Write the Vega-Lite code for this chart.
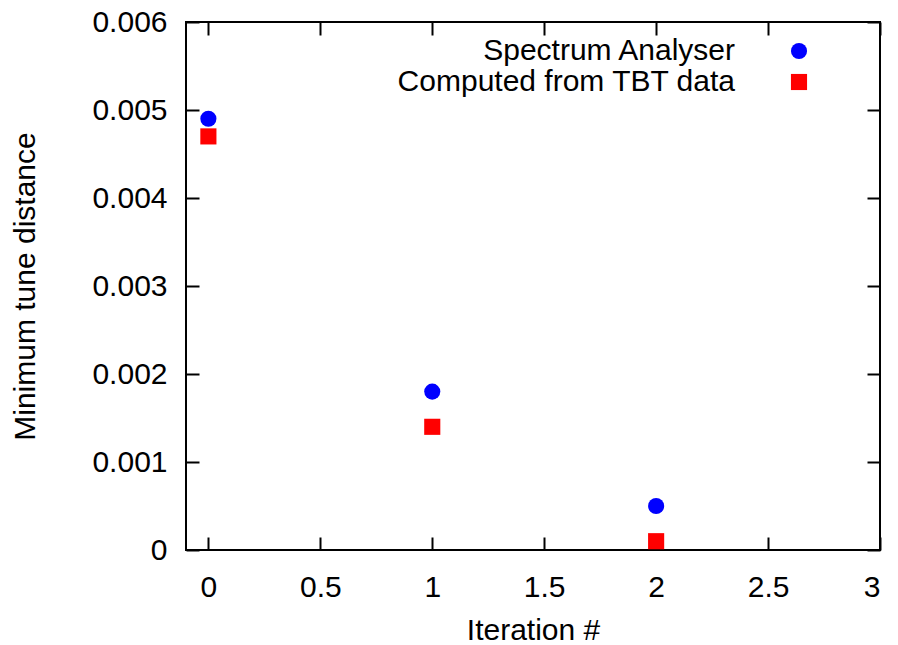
{
  "$schema": "https://vega.github.io/schema/vega-lite/v6.json",
  "autosize": "none",
  "width": 694,
  "height": 528,
  "padding": {"left": 186, "top": 22, "right": 18, "bottom": 95},
  "background": "white",
  "config": {
    "view": {"stroke": "black", "strokeWidth": 2},
    "font": "Liberation Sans",
    "axis": {"domain": false, "grid": false, "labelFont": "Liberation Sans", "titleFont": "Liberation Sans", "labelFontSize": 30, "titleFontSize": 30, "labelColor": "black", "titleColor": "black", "titleFontWeight": "normal", "tickColor": "black", "tickWidth": 2}
  },
  "data": {"values": [
    {"iteration": 0, "distance": 0.0049, "series": "Spectrum Analyser"},
    {"iteration": 1, "distance": 0.0018, "series": "Spectrum Analyser"},
    {"iteration": 2, "distance": 0.0005, "series": "Spectrum Analyser"},
    {"iteration": 0, "distance": 0.0047, "series": "Computed from TBT data"},
    {"iteration": 1, "distance": 0.0014, "series": "Computed from TBT data"},
    {"iteration": 2, "distance": 0.0001, "series": "Computed from TBT data"}
  ]},
  "layer": [
    {
      "mark": {"type": "point", "filled": true, "opacity": 1, "size": 260},
      "encoding": {
        "x": {"field": "iteration", "type": "quantitative", "scale": {"domain": [-0.1, 3], "nice": false, "zero": false},
          "axis": {"title": "Iteration #", "values": [0, 0.5, 1, 1.5, 2, 2.5, 3], "format": "~g", "tickSize": -13, "labelPadding": 35, "titlePadding": 13, "orient": "bottom"}},
        "y": {"field": "distance", "type": "quantitative", "scale": {"domain": [0, 0.006], "nice": false},
          "axis": {"title": "Minimum tune distance", "values": [0, 0.001, 0.002, 0.003, 0.004, 0.005, 0.006], "format": ".3~f", "tickSize": -13, "labelPadding": 32, "titlePadding": 51, "orient": "left"}},
        "color": {"field": "series", "type": "nominal", "scale": {"domain": ["Spectrum Analyser", "Computed from TBT data"], "range": ["#0000ff", "#ff0000"]},
          "legend": {"title": null, "orient": "none", "legendX": 598, "legendY": 14, "padding": 0, "labelAlign": "right", "labelOffset": -79, "symbolOffset": 0, "labelFontSize": 30, "labelFont": "Liberation Sans", "labelColor": "black", "symbolSize": 260, "rowPadding": 1, "labelLimit": 0}},
        "shape": {"field": "series", "type": "nominal", "scale": {"domain": ["Spectrum Analyser", "Computed from TBT data"], "range": ["circle", "square"]}}
      }
    },
    {
      "mark": {"type": "point", "opacity": 0},
      "encoding": {
        "x": {"field": "iteration", "type": "quantitative", "scale": {"domain": [-0.1, 3], "nice": false, "zero": false},
          "axis": {"title": null, "labels": false, "values": [0, 0.5, 1, 1.5, 2, 2.5, 3], "tickSize": -13, "orient": "top"}},
        "y": {"field": "distance", "type": "quantitative", "scale": {"domain": [0, 0.006], "nice": false},
          "axis": {"title": null, "labels": false, "values": [0, 0.001, 0.002, 0.003, 0.004, 0.005, 0.006], "tickSize": -13, "orient": "right"}}
      }
    }
  ],
  "resolve": {"axis": {"x": "independent", "y": "independent"}}
}
